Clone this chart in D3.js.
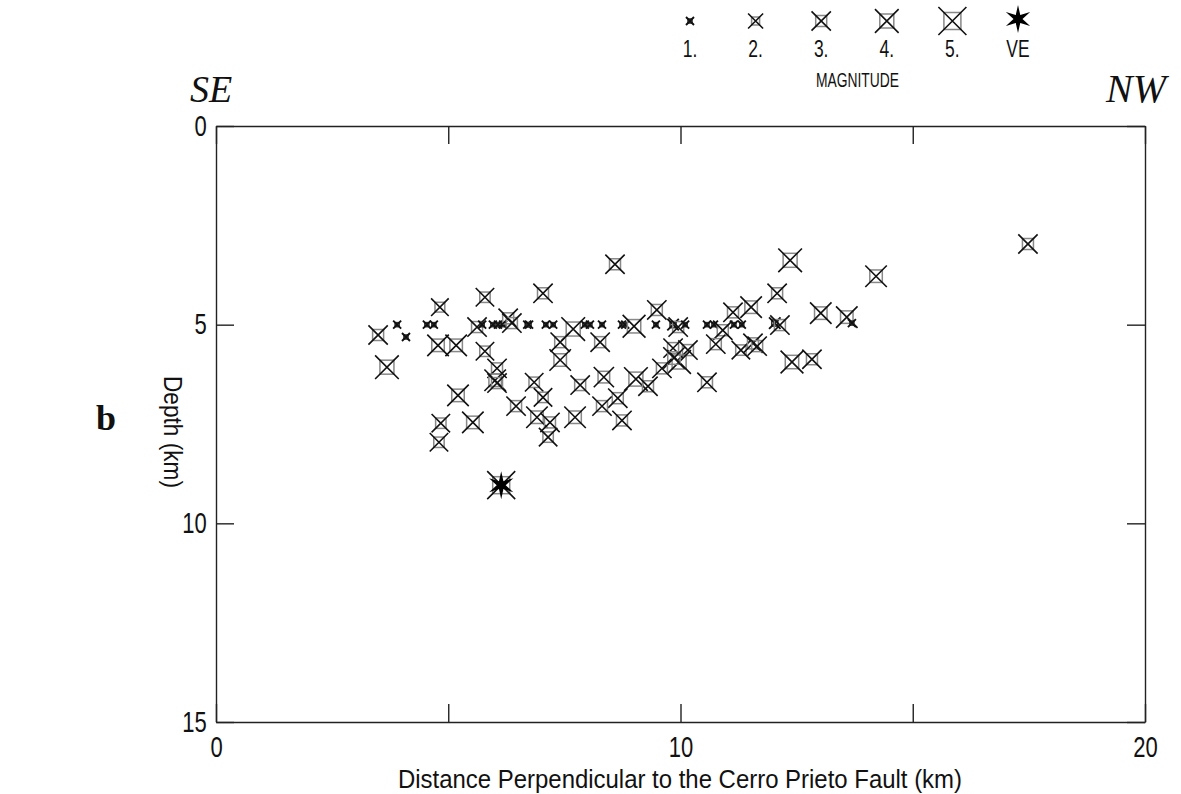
<!DOCTYPE html>
<html>
<head>
<meta charset="utf-8" />
<script src="https://d3js.org/d3.v7.min.js"></script>
<style>
  body { margin: 0; background: #fff; }
  text { font-family: "Liberation Sans", Arial, sans-serif; fill: #111; }
  .serif { font-family: "Liberation Serif", "DejaVu Serif", serif; }
  .axis path, .axis line { stroke: #222; stroke-width: 1.4; fill: none; }
</style>
</head>
<body>
<div id="chart"></div>
<script>
// events: distance perpendicular to the fault (km), depth (km), magnitude
var distance = [3.49, 3.90, 4.09, 4.54, 4.69, 4.82, 4.78, 5.17, 3.68, 5.79,
                7.04, 5.62, 5.73, 5.96, 6.07, 6.18, 6.29, 6.37, 6.70, 6.74,
                7.10, 7.26, 7.69, 7.41, 5.79, 7.41, 6.05, 6.01, 6.05, 6.85,
                7.04, 5.21, 6.46, 6.91, 7.19, 7.73, 4.84, 5.53, 7.15, 4.80,
                12.08, 14.21, 9.49, 11.13, 11.52, 13.02, 13.58, 13.69, 7.94, 8.05,
                8.31, 8.74, 8.81, 9.00, 9.47, 9.84, 9.95, 10.10, 10.57, 10.72,
                10.91, 11.15, 11.32, 12.03, 12.14, 8.27, 9.84, 10.16, 10.76, 11.30,
                11.56, 11.65, 12.40, 12.83, 9.97, 9.86, 9.60, 8.35, 7.84, 9.04,
                9.30, 10.57, 8.65, 8.31, 8.74, 8.59, 12.36, 17.48]
var depth = [5.26, 5.00, 5.31, 5.00, 5.00, 4.56, 5.52, 5.52, 6.07, 4.31,
             4.21, 5.06, 5.00, 5.00, 5.00, 5.00, 4.84, 4.96, 5.00, 5.00,
             5.00, 5.00, 5.11, 5.44, 5.67, 5.89, 6.10, 6.40, 6.47, 6.45,
             6.83, 6.78, 7.05, 7.33, 7.46, 7.33, 7.48, 7.46, 7.83, 7.96,
             4.21, 3.78, 4.63, 4.69, 4.56, 4.71, 4.81, 4.96, 5.00, 5.00,
             5.00, 5.00, 5.00, 5.04, 5.00, 5.00, 5.06, 5.00, 5.00, 5.00,
             5.14, 5.00, 5.00, 4.96, 5.01, 5.44, 5.59, 5.64, 5.49, 5.64,
             5.47, 5.54, 5.94, 5.87, 5.94, 5.84, 6.10, 6.32, 6.52, 6.37,
             6.55, 6.45, 6.85, 7.05, 7.41, 3.48, 3.38, 2.97]
var magnitude = [3, 1, 1, 1, 1, 2.6, 3.5, 3.5, 4, 2.8,
                 3, 3, 1, 1, 1, 1, 3, 3, 1, 1,
                 1, 1, 4, 3, 2.8, 3.5, 3, 3.5, 3, 2.8,
                 2.8, 3.5, 3, 3.5, 3, 3.5, 2.8, 3.5, 2.8, 2.8,
                 3, 3.5, 3, 3, 3.5, 3.5, 3.5, 1, 1, 1,
                 1, 1, 1, 3.8, 1, 1.5, 3, 1, 1, 1,
                 3, 1, 1, 1.5, 3, 3, 3, 3, 3, 2.8,
                 3, 3, 3.8, 3, 4, 3.5, 3, 3.2, 3, 4,
                 3, 3, 3, 3, 3, 3, 4, 3]

// the VE event (star)
var veDistance = [6.14]
var veDepth = [9.04]
var veMagnitude = [5]

var legendMags = [1, 2, 3, 4, 5]
var legendLabels = ["1.", "2.", "3.", "4.", "5.", "VE"]
var xTicks = [0, 5, 10, 15, 20]
var xTickLabels = ["0", "", "10", "", "20"]
var yTicks = [0, 5, 10, 15]

var W = 1181, H = 794
var margin = {top: 126, left: 216},
    width = 929,
    height = 596

var svg = d3.select("#chart").append("svg")
  .attr("width", W)
  .attr("height", H)

var g = svg.append("g")
  .attr("transform", "translate(" + margin.left + "," + margin.top + ")")

var x = d3.scaleLinear().domain([0, 20]).range([0, width])
var y = d3.scaleLinear().domain([0, 15]).range([0, height])

// half size of the cross and of the square for a magnitude
var crossSize = d3.scaleLinear().domain([1, 2, 5]).range([4, 7.5, 14])
var boxSize = d3.scaleLinear().domain([1, 2, 5]).range([2, 4, 8.5])

function drawSymbol(sel, m) {
  var h = crossSize(m), s = boxSize(m)
  sel.append("rect")
    .attr("x", -s).attr("y", -s)
    .attr("width", 2 * s).attr("height", 2 * s)
    .attr("fill", "none")
    .attr("stroke", m < 1.6 ? "#333" : "#888")
    .attr("stroke-width", m < 1.6 ? 1.6 : 1.5)
  sel.append("path")
    .attr("d", "M" + -h + "," + -h + "L" + h + "," + h + "M" + -h + "," + h + "L" + h + "," + -h)
    .attr("stroke", "#111")
    .attr("stroke-width", m < 1.6 ? 1.9 : 1.6)
}

function starPath(rOut, rIn, n) {
  var pts = d3.range(n * 2).map(function(i) {
    var a = i * Math.PI / n, r = i % 2 ? rIn : rOut
    return [r * Math.sin(a), -r * Math.cos(a)]
  })
  return "M" + pts.join("L") + "Z"
}

// narrow type: squeeze the glyphs horizontally
var squeeze = "scale(0.76,1)"

// axes, ticks pointing inward
g.append("g").attr("class", "axis")
  .call(d3.axisLeft(y).tickValues(yTicks).tickSizeInner(-18).tickSizeOuter(0).tickPadding(12))
  .selectAll("text").style("font-size", "29px").attr("transform", squeeze)
g.append("g").attr("class", "axis")
  .attr("transform", "translate(" + width + ",0)")
  .call(d3.axisRight(y).tickValues(yTicks).tickSizeInner(-18).tickSizeOuter(0).tickFormat(""))
g.append("g").attr("class", "axis")
  .attr("transform", "translate(0," + height + ")")
  .call(d3.axisBottom(x).tickValues(xTicks).tickSizeInner(-18).tickSizeOuter(0).tickPadding(14)
    .tickFormat(function(d, i) { return xTickLabels[i] }))
  .selectAll("text").style("font-size", "29px").attr("transform", squeeze)
g.append("g").attr("class", "axis")
  .call(d3.axisTop(x).tickValues(xTicks).tickSizeInner(-18).tickSizeOuter(0).tickFormat(""))
g.selectAll(".axis .domain").attr("stroke", "#222")
g.selectAll(".axis text").attr("fill", "#111")

// events
var events = g.append("g")
  .selectAll("g")
  .data(distance.map(function(d, i) { return {x: d, d: depth[i], m: magnitude[i]} }))
  .enter().append("g")
  .attr("transform", function(d) { return "translate(" + x(d.x) + "," + y(d.d) + ")" })
events.each(function(d) { drawSymbol(d3.select(this), d.m) })

var ve = g.append("g")
  .selectAll("g")
  .data(veDistance.map(function(d, i) { return {x: d, d: veDepth[i], m: veMagnitude[i]} }))
  .enter().append("g")
  .attr("transform", function(d) { return "translate(" + x(d.x) + "," + y(d.d) + ")" })
ve.each(function(d) { drawSymbol(d3.select(this), d.m) })
ve.append("path").attr("d", starPath(14, 4.5, 6)).attr("fill", "#000")

// legend
var lx = d3.scaleLinear().domain([0, 5]).range([690, 1018])
var legend = svg.append("g")
legend.selectAll("g.sym")
  .data(legendMags)
  .enter().append("g")
  .attr("class", "sym")
  .attr("transform", function(d, i) { return "translate(" + lx(i) + ",21)" })
  .each(function(d) { drawSymbol(d3.select(this), d) })
legend.append("path")
  .attr("transform", "translate(" + lx(5) + ",19)")
  .attr("d", starPath(14, 4.5, 6))
  .attr("fill", "#000")
legend.selectAll("text.lab")
  .data(legendLabels)
  .enter().append("text")
  .attr("class", "lab")
  .attr("transform", function(d, i) { return "translate(" + lx(i) + ",57) " + squeeze })
  .attr("text-anchor", "middle")
  .style("font-size", "23px")
  .text(function(d) { return d })
legend.append("text")
  .attr("x", 816).attr("y", 87)
  .attr("textLength", 83).attr("lengthAdjust", "spacingAndGlyphs")
  .style("font-size", "21px")
  .text("MAGNITUDE")

// titles
svg.append("text")
  .attr("x", 398).attr("y", 788)
  .attr("textLength", 564).attr("lengthAdjust", "spacingAndGlyphs")
  .style("font-size", "26px")
  .text("Distance Perpendicular to the Cerro Prieto Fault (km)")
svg.append("text")
  .attr("transform", "translate(164,376) rotate(90)")
  .attr("textLength", 112).attr("lengthAdjust", "spacingAndGlyphs")
  .style("font-size", "26px")
  .text("Depth (km)")
svg.append("text").attr("class", "serif")
  .attr("x", 190).attr("y", 102)
  .style("font-size", "38px").style("font-style", "italic")
  .text("SE")
svg.append("text").attr("class", "serif")
  .attr("x", 1106).attr("y", 102)
  .style("font-size", "40px").style("font-style", "italic")
  .text("NW")
svg.append("text").attr("class", "serif")
  .attr("x", 96).attr("y", 430)
  .style("font-size", "36px").style("font-weight", "bold")
  .text("b")
</script>
</body>
</html>
